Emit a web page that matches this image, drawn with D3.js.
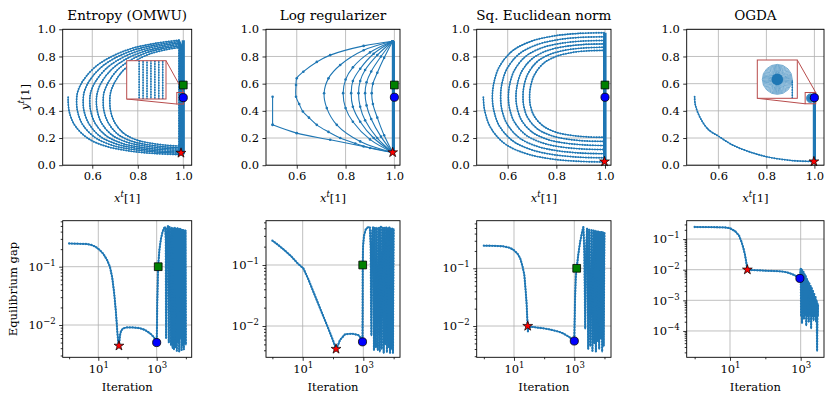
<!DOCTYPE html>
<html>
<head>
<meta charset="utf-8">
<script src="https://cdn.jsdelivr.net/npm/d3@7"></script>
<style>
  body { margin: 0; background: #fff; }
</style>
</head>
<body>
<svg id="chart" width="825" height="395" font-family="DejaVu Serif"></svg>
<script>
// ---- data ----
var titles = ['Entropy (OMWU)', 'Log regularizer', 'Sq. Euclidean norm', 'OGDA'];
var topXTicks = [0.6, 0.8, 1.0];
var topYTicks = [0, 0.2, 0.4, 0.6, 0.8, 1.0];
var gapXTicks = [10, 1000];
var gapXMinor = [1, 100, 10000];

// trajectory pieces, (x^t[1], y^t[1])
var entropyPieces = [
  [[0.494,0.50],[0.494,0.47],[0.499,0.392],[0.523,0.294],[0.582,0.196],[0.664,0.137],[0.762,0.105],[0.874,0.086],[0.981,0.078]],
  [[0.981,0.078],[0.981,0.92]],
  [[0.981,0.92],[0.882,0.898],[0.779,0.862],[0.689,0.803],[0.612,0.722],[0.558,0.619],[0.5355,0.538],[0.531,0.47],[0.5355,0.394],[0.558,0.298],[0.613,0.203],[0.690,0.145],[0.780,0.115],[0.884,0.096],[0.984,0.088]],
  [[0.984,0.088],[0.984,0.91]],
  [[0.984,0.91],[0.891,0.888],[0.793,0.853],[0.708,0.796],[0.636,0.716],[0.585,0.615],[0.564,0.536],[0.560,0.47],[0.564,0.396],[0.586,0.303],[0.637,0.209],[0.709,0.154],[0.795,0.124],[0.893,0.105],[0.987,0.098]],
  [[0.987,0.098],[0.987,0.90]],
  [[0.987,0.90],[0.899,0.879],[0.808,0.844],[0.728,0.788],[0.661,0.711],[0.613,0.612],[0.593,0.535],[0.589,0.47],[0.593,0.398],[0.613,0.307],[0.661,0.217],[0.729,0.162],[0.809,0.133],[0.901,0.115],[0.990,0.108]],
  [[0.990,0.108],[0.990,0.89]],
  [[0.990,0.89],[0.907,0.869],[0.822,0.835],[0.748,0.781],[0.685,0.705],[0.640,0.609],[0.622,0.533],[0.618,0.47],[0.622,0.40],[0.640,0.312],[0.685,0.224],[0.749,0.171],[0.824,0.143],[0.910,0.125],[0.993,0.118]],
  [[0.993,0.118],[0.993,0.88]],
  [[0.993,0.88],[0.916,0.86],[0.837,0.827],[0.768,0.773],[0.710,0.70],[0.669,0.605],[0.651,0.532],[0.648,0.47],[0.651,0.402],[0.669,0.316],[0.710,0.231],[0.769,0.179],[0.839,0.152],[0.919,0.135],[0.996,0.128]],
  [[0.996,0.128],[0.996,0.87]],
  [[0.996,0.87],[0.925,0.85],[0.852,0.818],[0.788,0.766],[0.734,0.694],[0.696,0.602],[0.680,0.53],[0.677,0.47],[0.680,0.404],[0.696,0.322],[0.735,0.239],[0.789,0.189],[0.853,0.163],[0.927,0.147],[0.999,0.14]],
  [[0.999,0.14],[0.999,0.86]]
];
var entropyBand = [[1.0,0.08],[1.0,0.92]];

var logRegPieces = [
  [[0.501,0.504],[0.501,0.297]],
  [[0.501,0.297],[0.6,0.236],[0.737,0.187],[0.874,0.138],[0.993,0.094]],
  [[0.993,0.094],[0.993,0.912]],
  [[0.993,0.912],[0.874,0.878],[0.737,0.81],[0.682,0.76],[0.627,0.688],[0.6,0.64],[0.597,0.59],[0.597,0.504],[0.61,0.45],[0.625,0.395],[0.65,0.35],[0.682,0.297],[0.73,0.245],[0.778,0.2],[0.84,0.16],[0.9,0.127],[0.993,0.094]],
  [[0.993,0.094],[0.993,0.912]],
  [[0.993,0.912],[0.874,0.846],[0.778,0.737],[0.73,0.639],[0.712,0.529],[0.723,0.42],[0.764,0.297],[0.86,0.175],[0.993,0.094]],
  [[0.993,0.912],[0.90,0.83],[0.83,0.72],[0.80,0.63],[0.79,0.53],[0.80,0.42],[0.83,0.32],[0.90,0.19],[0.993,0.094]],
  [[0.993,0.912],[0.915,0.82],[0.86,0.71],[0.83,0.62],[0.823,0.53],[0.83,0.43],[0.86,0.32],[0.915,0.2],[0.993,0.094]],
  [[0.993,0.912],[0.93,0.81],[0.88,0.70],[0.86,0.62],[0.853,0.53],[0.86,0.43],[0.88,0.33],[0.93,0.2],[0.993,0.094]],
  [[0.993,0.912],[0.945,0.80],[0.905,0.69],[0.886,0.61],[0.88,0.53],[0.886,0.44],[0.905,0.34],[0.945,0.21],[0.993,0.094]],
  [[0.993,0.912],[0.958,0.79],[0.93,0.68],[0.912,0.6],[0.907,0.53],[0.912,0.45],[0.93,0.35],[0.958,0.22],[0.993,0.094]]
];
var logRegBand = [[0.996,0.09],[0.996,0.912]];

var euclidPieces = [
  [[0.5,0.5],[0.505,0.405],[0.530,0.276],[0.589,0.157],[0.674,0.086],[0.773,0.048],[0.887,0.029],[0.996,0.024]],
  [[0.996,0.024],[0.996,0.975]],
  [[0.996,0.975],[0.895,0.970],[0.789,0.951],[0.698,0.913],[0.620,0.842],[0.565,0.723],[0.542,0.595],[0.537,0.5],[0.542,0.411],[0.565,0.291],[0.620,0.180],[0.698,0.113],[0.790,0.077],[0.896,0.059],[0.997,0.055]],
  [[0.997,0.055],[0.997,0.945]],
  [[0.997,0.945],[0.903,0.941],[0.805,0.923],[0.720,0.887],[0.648,0.820],[0.597,0.709],[0.575,0.589],[0.571,0.5],[0.575,0.417],[0.597,0.305],[0.648,0.201],[0.720,0.139],[0.805,0.106],[0.903,0.089],[0.997,0.085]],
  [[0.997,0.085],[0.997,0.918]],
  [[0.997,0.918],[0.910,0.914],[0.820,0.897],[0.741,0.864],[0.674,0.801],[0.627,0.696],[0.607,0.584],[0.603,0.5],[0.607,0.423],[0.627,0.319],[0.674,0.223],[0.741,0.165],[0.820,0.134],[0.911,0.119],[0.998,0.115]],
  [[0.998,0.115],[0.998,0.893]],
  [[0.998,0.893],[0.918,0.889],[0.834,0.873],[0.761,0.842],[0.700,0.783],[0.656,0.685],[0.638,0.579],[0.634,0.5],[0.638,0.429],[0.656,0.333],[0.700,0.244],[0.761,0.191],[0.834,0.163],[0.918,0.149],[0.998,0.145]],
  [[0.998,0.145],[0.998,0.868]],
  [[0.998,0.868],[0.924,0.864],[0.847,0.850],[0.780,0.820],[0.723,0.765],[0.683,0.673],[0.666,0.574],[0.663,0.5],[0.666,0.435],[0.683,0.347],[0.723,0.266],[0.781,0.217],[0.848,0.191],[0.925,0.178],[0.999,0.175]],
  [[0.999,0.175],[0.999,0.845]],
  [[0.999,0.845],[0.931,0.842],[0.860,0.828],[0.798,0.800],[0.746,0.748],[0.709,0.662],[0.693,0.569],[0.69,0.5],[0.693,0.441],[0.709,0.361],[0.746,0.288],[0.798,0.243],[0.860,0.220],[0.931,0.208],[0.999,0.205]],
  [[0.999,0.205],[0.999,0.822]]
];
var euclidBand = [[1.0,0.02],[1.0,0.975]];

var ogdaPieces = [
  [[0.501,0.504],[0.504,0.443],[0.525,0.346],[0.559,0.261],[0.6,0.214],[0.662,0.146],[0.73,0.098],[0.812,0.058],[0.908,0.034],[0.998,0.027]]
];
var ogdaBand = [[1.0,0.025],[1.0,0.492]];
var ogdaSpiralCenter = [0.9835, 0.493];
var ogdaRingRadii = [0.0165, 0.0155, 0.0145, 0.0135, 0.0125, 0.0115, 0.0105, 0.0096, 0.0087, 0.0078, 0.0069, 0.006];
var ogdaCoreRadius = 0.0064;

var topStar = [[0.99,0.09],[0.993,0.094],[0.998,0.027],[0.998,0.027]];
var topCircle = [[1.0,0.497],[1.0,0.5],[1.0,0.5],[1.0,0.497]];
var topSquare = [[1.0,0.59],[1.0,0.59],[1.0,0.59],null];

// equilibrium gap vs iteration
var entropyIter = [1,2,4,6,8,11,15,20,25,30,35,40,45,48,51,55,60,70,93,150,270,400,590,750,870,1000,1020,1050,1100,1150,1250,1400,1600,1800,1950,2050,2100,2250,2450,2600,2750,2900,3100,3300,3500,3700,3900,4200,4400,4700,4900,5200,5400,5700,5900,6300,6500,6900,7100,7500,7800,8200,8500,8900,9300,9700,10000];
var entropyGap = [0.25,0.248,0.245,0.235,0.22,0.195,0.165,0.13,0.1,0.065,0.035,0.017,0.0075,0.0052,0.0044,0.0065,0.0079,0.0087,0.0091,0.0091,0.0088,0.0082,0.0072,0.0064,0.0058,0.005,0.008,0.025,0.07,0.12,0.2,0.3,0.4,0.46,0.48,0.3,0.006,0.45,0.5,0.005,0.48,0.45,0.0045,0.47,0.004,0.46,0.0038,0.47,0.0042,0.45,0.0036,0.46,0.005,0.44,0.0035,0.45,0.006,0.44,0.0037,0.43,0.0045,0.43,0.0038,0.42,0.005,0.42,0.0045];

var logRegIter = [1,1.2,1.6,2.5,4.3,7,10.5,15,25,40,70,100,126,150,170,250,420,680,890,940,950,955,980,1050,1200,1450,1650,1750,1800,1850,1950,2100,2250,2400,2600,2800,3000,3300,3500,3800,4000,4400,4700,5000,5300,5700,6000,6400,6800,7200,7600,8000,8500,9000,9500,10000];
var logRegGap = [0.25,0.235,0.21,0.175,0.137,0.105,0.088,0.06,0.032,0.018,0.0091,0.0058,0.0042,0.005,0.0059,0.0073,0.0075,0.0071,0.0061,0.0055,0.02,0.1,0.2,0.3,0.38,0.42,0.41,0.2,0.02,0.007,0.35,0.42,0.004,0.41,0.0045,0.41,0.004,0.41,0.0038,0.42,0.0042,0.41,0.0036,0.41,0.005,0.41,0.0037,0.4,0.0045,0.41,0.0036,0.4,0.0042,0.4,0.0036,0.4];

var euclidIter = [1,2,4.4,7,9.5,13,16,19,22,24,26,27.5,28.5,29,31,40,56,100,155,300,435,600,725,870,1000,1020,1060,1120,1200,1350,1550,1800,2000,2150,2300,2450,2650,2900,3100,3400,3700,4000,4300,4600,4900,5200,5600,5900,6300,6700,7100,7500,8000,8400,8900,9400,10000];
var euclidGap = [0.247,0.245,0.24,0.228,0.21,0.18,0.15,0.11,0.077,0.045,0.026,0.014,0.01,0.008,0.0095,0.0097,0.0094,0.0091,0.0087,0.008,0.0074,0.0067,0.0063,0.0058,0.0055,0.01,0.03,0.07,0.1,0.17,0.28,0.42,0.52,0.2,0.009,0.2,0.49,0.004,0.47,0.0045,0.46,0.0037,0.45,0.005,0.45,0.0036,0.44,0.0055,0.44,0.004,0.43,0.006,0.43,0.0036,0.42,0.0045,0.42];

var ogdaIter = [1,3,7.2,10,14,18,21,24,26.5,29,31,35,50,98,180,290,420,565,750,955,1000,1030,1060,1090,1120,1160,1200,1240,1290,1340,1390,1440,1500,1560,1620,1690,1760,1830,1900,1980,2060,2140,2230,2320,2420,2520,2620,2720,2820,2920,3000,3050,3100];
var ogdaGap = [0.247,0.245,0.24,0.225,0.18,0.13,0.083,0.05,0.031,0.017,0.01,0.0098,0.0096,0.0093,0.009,0.0088,0.0081,0.0072,0.0062,0.0052,0.011,0.0003,0.0105,0.00018,0.0095,0.0004,0.0085,0.00025,0.0072,0.00035,0.0062,0.00015,0.0052,0.0003,0.0043,0.0002,0.0036,0.00035,0.003,0.00012,0.0025,0.0003,0.002,0.00022,0.0016,0.0003,0.0013,0.0002,0.001,0.000022,0.0008,0.0003,0.0007];

var gapStar = [[51,0.0044],[126,0.0042],[28.5,0.01],[31,0.01]];
var gapCircle = [[1000,0.005],[940,0.0055],[1000,0.0055],[950,0.0052]];
var gapSquare = [[1130,0.1],[955,0.1],[1200,0.1],null];

// ---- layout ----
var colX = [[62.7,191.7],[266,400],[476.7,611],[686.7,824]];
var topY = [29.3,165.2];
var botY = [220.7,357.3];
var topXDomain = [[0.47,1.037],[0.474,1.023],[0.4726,1.0247],[0.468,1.04]];
var botXLog = [[-0.22,4.2],[-0.21,4.21],[-0.237,4.217],[-0.225,3.66]];
var botYLog = [[-2.554,-0.211],[-2.513,-0.274],[-2.542,-0.175],[-4.86,-0.401]];

var blue = '#1f77b4';
var gridColor = '#b0b0b0';
var insetColor = '#b84c4c';
var tickSize = 11.5;
var labelSize = 11.5;
var titleSize = 13.5;

var svg = d3.select('#chart');

function styleAxis(ax) {
  ax.select('.domain').remove();
  ax.attr('font-family', 'DejaVu Serif').attr('font-size', tickSize);
  ax.selectAll('.tick line').attr('stroke', '#000').attr('stroke-width', 0.8);
  ax.selectAll('.tick text').attr('fill', '#000');
}

function powLabels(ax) {
  ax.selectAll('.tick text').each(function(d) {
    var k = Math.round(Math.log10(d));
    var t = d3.select(this).text(null);
    t.append('tspan').text('10');
    t.append('tspan').attr('dy', -5).attr('font-size', 8.5).text(k < 0 ? '\u2212' + (-k) : String(k));
  });
}

function label(g, x, y, size) {
  return g.append('text').attr('x', x).attr('y', y).attr('text-anchor', 'middle')
    .attr('font-size', size).attr('font-family', 'DejaVu Serif').attr('fill', '#000');
}

function drawPieces(plot, x, y, pieces, width, beads) {
  var line = d3.line().x(d => x(d[0])).y(d => y(d[1])).curve(d3.curveCatmullRom.alpha(0.5));
  plot.append('g').selectAll('path').data(pieces).join('path')
    .attr('d', line).attr('fill', 'none').attr('stroke', blue).attr('stroke-width', width);
  if (beads) {
    plot.append('g').selectAll('path').data(pieces).join('path')
      .attr('d', line).attr('fill', 'none').attr('stroke', blue)
      .attr('stroke-width', beads).attr('stroke-linecap', 'round').attr('stroke-dasharray', '0 2.6');
  }
}

function drawMarkers(g, x, y, star, circle, square) {
  if (square) g.append('path').attr('d', d3.symbol(d3.symbolSquare, 60)())
    .attr('transform', `translate(${x(square[0])},${y(square[1])})`)
    .attr('fill', '#008000').attr('stroke', '#000').attr('stroke-width', 0.8);
  g.append('path').attr('d', d3.symbol(d3.symbolCircle, 52)())
    .attr('transform', `translate(${x(circle[0])},${y(circle[1])})`)
    .attr('fill', '#0000ff').attr('stroke', '#000').attr('stroke-width', 0.8);
  g.append('path').attr('d', d3.symbol(d3.symbolStar, 30)())
    .attr('transform', `translate(${x(star[0])},${y(star[1])})`)
    .attr('fill', '#ff0000').attr('stroke', '#000').attr('stroke-width', 0.7);
}

function frame(g, x0, x1, y0, y1) {
  g.append('rect').attr('x', x0).attr('y', y0).attr('width', x1 - x0).attr('height', y1 - y0)
    .attr('fill', 'none').attr('stroke', '#000').attr('stroke-width', 0.9);
}

function drawTop(i, pieces, band, opt) {
  var x0 = colX[i][0], x1 = colX[i][1], y0 = topY[0], y1 = topY[1];
  var x = d3.scaleLinear().domain(topXDomain[i]).range([x0, x1]);
  var y = d3.scaleLinear().domain([0, 1]).range([y1, y0]);
  var g = svg.append('g');

  g.append('g').selectAll('line').data(topXTicks).join('line')
    .attr('x1', d => x(d)).attr('x2', d => x(d)).attr('y1', y0).attr('y2', y1)
    .attr('stroke', gridColor).attr('stroke-width', 0.8);
  g.append('g').selectAll('line').data(topYTicks).join('line')
    .attr('x1', x0).attr('x2', x1).attr('y1', d => y(d)).attr('y2', d => y(d))
    .attr('stroke', gridColor).attr('stroke-width', 0.8);

  var clip = 'clip-top-' + i;
  svg.append('clipPath').attr('id', clip).append('rect')
    .attr('x', x0).attr('y', y0).attr('width', x1 - x0).attr('height', y1 - y0);
  var plot = g.append('g').attr('clip-path', `url(#${clip})`);

  plot.append('path').datum(band)
    .attr('d', d3.line().x(d => x(d[0])).y(d => y(d[1])))
    .attr('stroke', blue).attr('stroke-width', 3.2).attr('fill', 'none');
  drawPieces(plot, x, y, pieces, 1.1, opt.dots ? 0 : 1.9);
  if (opt.dots) {
    plot.append('g').selectAll('circle').data(pieces.flat()).join('circle')
      .attr('cx', d => x(d[0])).attr('cy', d => y(d[1])).attr('r', 1.3).attr('fill', blue);
  }

  g.append('g').attr('transform', `translate(0,${y1})`)
    .call(d3.axisBottom(x).tickValues(topXTicks).tickFormat(d3.format('.1f')).tickSize(3.5).tickPadding(3.5))
    .call(styleAxis);
  g.append('g').attr('transform', `translate(${x0},0)`)
    .call(d3.axisLeft(y).tickValues(topYTicks).tickFormat(d3.format('.1f')).tickSize(3.5).tickPadding(3.5))
    .call(styleAxis);

  label(g, (x0 + x1) / 2, 20, titleSize).text(titles[i]);

  var xl = label(g, (x0 + x1) / 2, 202, labelSize);
  xl.append('tspan').attr('font-style', 'italic').text('x');
  xl.append('tspan').attr('dy', -5).attr('font-size', 8.5).attr('font-style', 'italic').text('t');
  xl.append('tspan').attr('dy', 5).text('[1]');

  return { g: g, x: x, y: y, x0: x0, x1: x1, y0: y0, y1: y1 };
}

function drawInset(p, box, xd, yd, content) {
  var ix0 = box[0], iy0 = box[1], ix1 = box[2], iy1 = box[3];
  var xi = d3.scaleLinear().domain(xd).range([ix0, ix1]);
  var yi = d3.scaleLinear().domain(yd).range([iy1, iy0]);
  var rx0 = p.x(xd[0]), rx1 = p.x(xd[1]), ry0 = p.y(yd[1]), ry1 = p.y(yd[0]);
  p.g.append('rect').attr('x', rx0).attr('y', ry0).attr('width', rx1 - rx0).attr('height', ry1 - ry0)
    .attr('fill', 'none').attr('stroke', insetColor).attr('stroke-width', 1);
  p.g.append('g').selectAll('line').data([[ix1, iy0, rx1, ry0], [ix0, iy1, rx0, ry1]]).join('line')
    .attr('x1', d => d[0]).attr('y1', d => d[1]).attr('x2', d => d[2]).attr('y2', d => d[3])
    .attr('stroke', insetColor).attr('stroke-width', 1);
  p.g.append('rect').attr('x', ix0).attr('y', iy0).attr('width', ix1 - ix0).attr('height', iy1 - iy0).attr('fill', '#fff');
  var clip = 'clip-inset-' + Math.round(ix0);
  svg.append('clipPath').attr('id', clip).append('rect')
    .attr('x', ix0).attr('y', iy0).attr('width', ix1 - ix0).attr('height', iy1 - iy0);
  var ig = p.g.append('g').attr('clip-path', `url(#${clip})`);
  content(ig, xi, yi);
  p.g.append('rect').attr('x', ix0).attr('y', iy0).attr('width', ix1 - ix0).attr('height', iy1 - iy0)
    .attr('fill', 'none').attr('stroke', insetColor).attr('stroke-width', 1);
}

function drawRings(g, x, y, xi, yi, sw) {
  var cx = ogdaSpiralCenter[0], cy = ogdaSpiralCenter[1];
  function radii(r) {
    var rp = xi(cx + r) - xi(cx);
    var dy = yi.invert(yi(cy) - rp) - cy;
    return [x(cx + r) - x(cx), y(cy) - y(cy + dy)];
  }
  g.append('g').selectAll('ellipse').data(ogdaRingRadii).join('ellipse')
    .attr('cx', x(cx)).attr('cy', y(cy))
    .attr('rx', d => radii(d)[0]).attr('ry', d => radii(d)[1])
    .attr('fill', 'none').attr('stroke', blue).attr('stroke-width', sw);
  g.append('ellipse').attr('cx', x(cx)).attr('cy', y(cy))
    .attr('rx', radii(ogdaCoreRadius)[0]).attr('ry', radii(ogdaCoreRadius)[1]).attr('fill', blue);
}

function drawBottom(i, iter, gap) {
  var x0 = colX[i][0], x1 = colX[i][1], y0 = botY[0], y1 = botY[1];
  var x = d3.scaleLog().domain(botXLog[i].map(v => Math.pow(10, v))).range([x0, x1]);
  var y = d3.scaleLog().domain(botYLog[i].map(v => Math.pow(10, v))).range([y1, y0]);
  var g = svg.append('g');
  var yMajor = d3.range(Math.ceil(botYLog[i][0]), Math.floor(botYLog[i][1]) + 1).map(k => Math.pow(10, k));
  var yMinor = y.ticks().filter(v => Math.abs(Math.log10(v) - Math.round(Math.log10(v))) > 1e-6);
  var xMinor = gapXMinor.filter(v => v >= x.domain()[0] && v <= x.domain()[1]);

  g.append('g').selectAll('line').data(gapXTicks).join('line')
    .attr('x1', d => x(d)).attr('x2', d => x(d)).attr('y1', y0).attr('y2', y1)
    .attr('stroke', gridColor).attr('stroke-width', 0.8);
  g.append('g').selectAll('line').data(yMajor).join('line')
    .attr('x1', x0).attr('x2', x1).attr('y1', d => y(d)).attr('y2', d => y(d))
    .attr('stroke', gridColor).attr('stroke-width', 0.8);

  var clip = 'clip-bot-' + i;
  svg.append('clipPath').attr('id', clip).append('rect')
    .attr('x', x0).attr('y', y0).attr('width', x1 - x0).attr('height', y1 - y0);
  var plot = g.append('g').attr('clip-path', `url(#${clip})`);
  var pts = iter.map((t, j) => [t, gap[j]]);
  var line = d3.line().x(d => x(d[0])).y(d => y(d[1]));
  plot.append('path').datum(pts).attr('d', line).attr('fill', 'none')
    .attr('stroke', blue).attr('stroke-width', 1.5).attr('stroke-linejoin', 'round');
  plot.append('path').datum(pts).attr('d', line).attr('fill', 'none')
    .attr('stroke', blue).attr('stroke-width', 2.3).attr('stroke-linecap', 'round').attr('stroke-dasharray', '0 2.8');

  g.append('g').attr('transform', `translate(0,${y1})`)
    .call(d3.axisBottom(x).tickValues(gapXTicks).tickSize(3.5).tickPadding(4))
    .call(styleAxis).call(powLabels);
  g.append('g').attr('transform', `translate(0,${y1})`)
    .call(d3.axisBottom(x).tickValues(xMinor).tickFormat('').tickSize(2))
    .call(styleAxis);
  g.append('g').attr('transform', `translate(${x0},0)`)
    .call(d3.axisLeft(y).tickValues(yMajor).tickSize(3.5).tickPadding(3.5))
    .call(styleAxis).call(powLabels);
  g.append('g').attr('transform', `translate(${x0},0)`)
    .call(d3.axisLeft(y).tickValues(yMinor).tickFormat('').tickSize(2))
    .call(styleAxis);

  label(g, (x0 + x1) / 2, 391, labelSize).text('Iteration');

  drawMarkers(g, x, y, gapStar[i], gapCircle[i], gapSquare[i]);
  frame(g, x0, x1, y0, y1);
}

// ---- top row ----
var p1 = drawTop(0, entropyPieces, entropyBand, {});
drawInset(p1, [126.7, 60.7, 166, 99], [0.9715, 1.0015], [0.45, 0.535], function(ig, xi, yi) {
  drawPieces(ig, xi, yi, entropyPieces, 0.8, 1.8);
});
drawMarkers(p1.g, p1.x, p1.y, topStar[0], topCircle[0], topSquare[0]);
frame(p1.g, p1.x0, p1.x1, p1.y0, p1.y1);

var p2 = drawTop(1, logRegPieces, logRegBand, { dots: true });
drawMarkers(p2.g, p2.x, p2.y, topStar[1], topCircle[1], topSquare[1]);
frame(p2.g, p2.x0, p2.x1, p2.y0, p2.y1);

var p3 = drawTop(2, euclidPieces, euclidBand, {});
drawMarkers(p3.g, p3.x, p3.y, topStar[2], topCircle[2], topSquare[2]);
frame(p3.g, p3.x0, p3.x1, p3.y0, p3.y1);

var p4 = drawTop(3, ogdaPieces, ogdaBand, {});
var ogdaInX = [0.9615, 1.0055], ogdaInY = [0.452, 0.535];
(function() {
  var xi = d3.scaleLinear().domain(ogdaInX).range([757.3, 797.3]);
  var yi = d3.scaleLinear().domain(ogdaInY).range([98.3, 60]);
  drawRings(p4.g, p4.x, p4.y, xi, yi, 0.5);
})();
drawInset(p4, [757.3, 60, 797.3, 98.3], ogdaInX, ogdaInY, function(ig, xi, yi) {
  drawRings(ig, xi, yi, xi, yi, 0.6);
  drawPieces(ig, xi, yi, [ogdaBand], 0.9, 1.7);
});
drawMarkers(p4.g, p4.x, p4.y, topStar[3], topCircle[3], topSquare[3]);
frame(p4.g, p4.x0, p4.x1, p4.y0, p4.y1);

// y label top row
var yl = svg.append('text').attr('transform', 'translate(29,97) rotate(-90)')
  .attr('text-anchor', 'middle').attr('font-size', labelSize).attr('font-family', 'DejaVu Serif');
yl.append('tspan').attr('font-style', 'italic').text('y');
yl.append('tspan').attr('dy', -5).attr('font-size', 8.5).attr('font-style', 'italic').text('t');
yl.append('tspan').attr('dy', 5).text('[1]');

// ---- bottom row ----
drawBottom(0, entropyIter, entropyGap);
drawBottom(1, logRegIter, logRegGap);
drawBottom(2, euclidIter, euclidGap);
drawBottom(3, ogdaIter, ogdaGap);

svg.append('text').attr('transform', 'translate(17,289) rotate(-90)')
  .attr('text-anchor', 'middle').attr('font-size', labelSize).attr('font-family', 'DejaVu Serif')
  .text('Equilibrium gap');
</script>
</body>
</html>
